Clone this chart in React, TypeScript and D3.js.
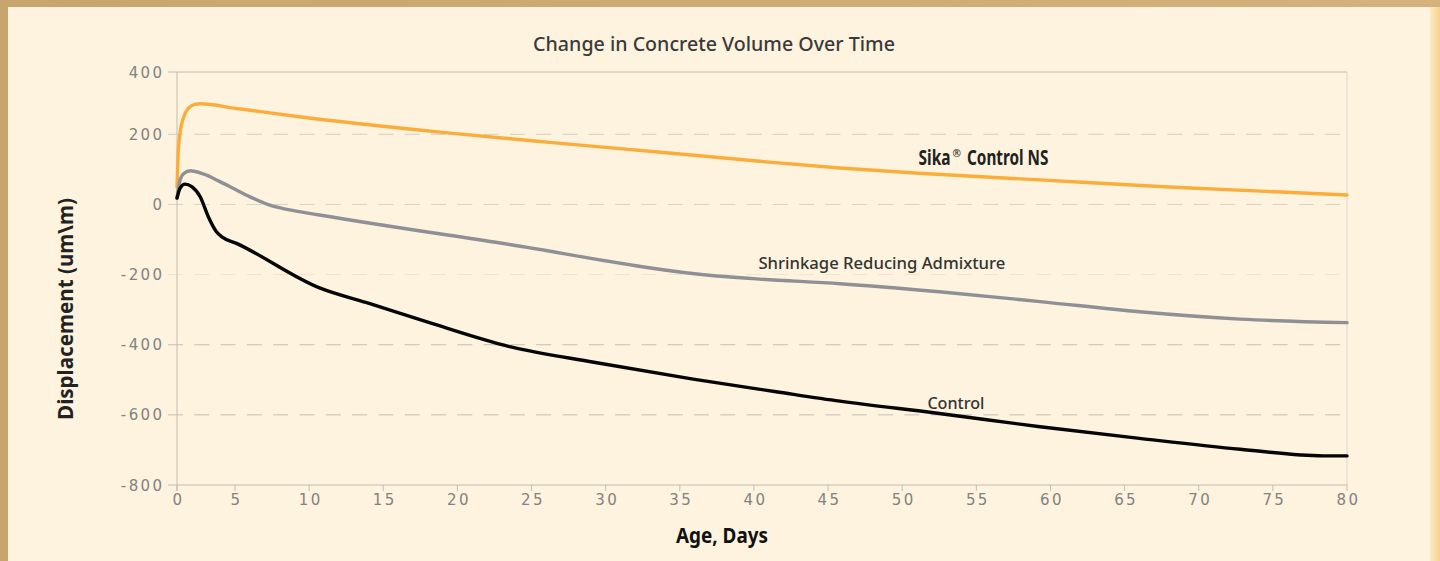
import React, { useEffect, useRef } from 'react';
import * as d3 from 'd3';

// values (days, um/m)
const xTicks = [0, 5, 10, 15, 20, 25, 30, 35, 40, 45, 50, 55, 60, 65, 70, 75, 80];
const yTicks = [400, 200, 0, -200, -400, -600, -800];

const sikaDays = [0, 0.09, 0.26, 0.54, 0.97, 1.55, 2.0, 5.1, 9.2, 19, 26.2, 33.7, 40.4, 45.8, 51.1, 59.3, 68.3, 80];
const sikaValues = [50, 136, 203, 251, 283, 296, 298, 283, 257, 206, 177, 149, 123, 104, 89, 70, 49, 27];

const sraDays = [0, 0.2, 0.54, 1.12, 2.27, 3.7, 5.1, 6.2, 7.4, 8.5, 10.7, 22.9, 37.5, 40.4, 45.8, 52.5, 59.3, 66, 72.8, 80];
const sraValues = [18, 60, 87, 96, 87, 65, 41, 18, -3, -14, -30, -110, -204, -213, -226, -249, -277, -306, -327, -337];

const controlDays = [0, 0.26, 0.69, 1.27, 2.0, 2.7, 3.4, 3.9, 5.1, 10.7, 14.1, 17.9, 23.6, 29.2, 35.9, 41.5, 45.8, 52.5, 59.3, 66, 72.8, 78.4, 80];
const controlValues = [18, 46, 58, 51, 22, -35, -78, -93, -111, -238, -283, -334, -406, -450, -498, -534, -561, -596, -634, -667, -698, -717, -717];

const W = 1440;
const H = 561;

type TextSel = d3.Selection<SVGTextElement, unknown, null, undefined>;

export default function App() {
  const svgRef = useRef<SVGSVGElement | null>(null);

  useEffect(() => {
    const svg = d3.select(svgRef.current);
    svg.selectAll('*').remove();

    // the original axes are not uniform at the start, so use piecewise scales
    const x = d3.scaleLinear().domain([0, 5, 80]).range([177, 235, 1347]);
    const y = d3.scaleLinear().domain([-800, 200, 400]).range([485, 134.3, 72]);

    // frame
    const defs = svg.append('defs');
    const topGrad = defs.append('linearGradient').attr('id', 'topGrad');
    topGrad.append('stop').attr('offset', '0%').attr('stop-color', '#c8a56c');
    topGrad.append('stop').attr('offset', '100%').attr('stop-color', '#d3b27b');
    const rightGrad = defs.append('linearGradient').attr('id', 'rightGrad');
    rightGrad.append('stop').attr('offset', '0%').attr('stop-color', '#fdf3de');
    rightGrad.append('stop').attr('offset', '100%').attr('stop-color', '#f8d48c');

    svg.append('rect').attr('width', W).attr('height', H).attr('fill', 'url(#topGrad)');
    svg.append('rect').attr('x', 1426).attr('y', 7).attr('width', 14).attr('height', H - 7).attr('fill', 'url(#rightGrad)');
    svg.append('rect').attr('x', 8).attr('y', 7).attr('width', 1422).attr('height', H - 7).attr('fill', '#fdf3de');

    const [x0, x1] = [x(0), x(80)];

    // grid
    const gridColor: Record<number, string> = { 200: '#d6cec2', 0: '#d9d1c5', [-200]: '#ede4d3', [-400]: '#c6bfb5', [-600]: '#c6bfb5' };
    svg.append('g')
      .selectAll('line')
      .data(yTicks.filter(t => t !== 400 && t !== -800))
      .enter().append('line')
      .attr('x1', 168).attr('x2', x1)
      .attr('y1', d => y(d)).attr('y2', d => y(d))
      .attr('stroke', d => gridColor[d])
      .attr('stroke-width', 1)
      .attr('stroke-dasharray', '15 11.3');

    const axisColor = '#c4bcb1';
    // top frame line, right border, axes
    svg.append('line').attr('x1', 168).attr('x2', x1).attr('y1', y(400)).attr('y2', y(400)).attr('stroke', axisColor);
    svg.append('line').attr('x1', x1).attr('x2', x1).attr('y1', y(400)).attr('y2', y(-800)).attr('stroke', '#dcd4c9');
    svg.append('line').attr('x1', x0).attr('x2', x0).attr('y1', y(400)).attr('y2', y(-800) + 6).attr('stroke', axisColor);
    svg.append('line').attr('x1', 168).attr('x2', x1).attr('y1', y(-800)).attr('y2', y(-800)).attr('stroke', axisColor);

    // x ticks
    svg.append('g')
      .selectAll('line')
      .data(xTicks)
      .enter().append('line')
      .attr('x1', d => x(d)).attr('x2', d => x(d))
      .attr('y1', y(-800)).attr('y2', y(-800) + 6)
      .attr('stroke', axisColor);

    const tickFont = '"DejaVu Sans", sans-serif';
    svg.append('g')
      .selectAll('text')
      .data(yTicks)
      .enter().append('text')
      .attr('x', 164.5)
      .attr('y', d => y(d) + 5.5)
      .attr('text-anchor', 'end')
      .attr('font-family', tickFont)
      .attr('font-size', 15)
      .attr('letter-spacing', 2.4)
      .attr('fill', '#838281')
      .text(d => d);

    svg.append('g')
      .selectAll('text')
      .data(xTicks)
      .enter().append('text')
      .attr('x', d => x(d) + 1.5)
      .attr('y', 505)
      .attr('text-anchor', 'middle')
      .attr('font-family', tickFont)
      .attr('font-size', 15)
      .attr('letter-spacing', 2.4)
      .attr('fill', '#838281')
      .text(d => d);

    // series
    const series = [
      { days: sikaDays, values: sikaValues, color: '#fbad3b' },
      { days: sraDays, values: sraValues, color: '#8e9096' },
      { days: controlDays, values: controlValues, color: '#050505' },
    ];
    const line = d3.line<[number, number]>()
      .x(d => x(d[0]))
      .y(d => y(d[1]))
      .curve(d3.curveMonotoneX);

    svg.append('g')
      .selectAll('path')
      .data(series)
      .enter().append('path')
      .attr('d', s => line(s.days.map((d, i) => [d, s.values[i]] as [number, number])))
      .attr('fill', 'none')
      .attr('stroke', s => s.color)
      .attr('stroke-width', 3.4)
      .attr('stroke-linejoin', 'round')
      .attr('stroke-linecap', 'round');

    const labelFont = '"Noto Sans", "Open Sans", sans-serif';

    // condensed text: squeeze horizontally to the width measured on the reference
    const label = (text: string, px: number, py: number, width: number, size: number, weight: number,
      fill: string, anchor = 'start', rotate = 0): TextSel => {
      const t = svg.append('text')
        .attr('text-anchor', anchor)
        .attr('font-family', labelFont)
        .attr('font-weight', weight)
        .attr('font-size', size)
        .attr('fill', fill)
        .text(text);
      const natural = (t.node() as SVGTextElement).getComputedTextLength() || width;
      t.attr('transform', `translate(${px},${py}) rotate(${rotate}) scale(${width / natural},1)`);
      return t;
    };

    // series labels, anchored in data coordinates
    const sikaX = x(51.1);
    const sikaY = y(112.5);
    label('Sika', sikaX, sikaY, 32, 21, 700, '#222');
    label('®', sikaX + 34, sikaY - 8, 8.5, 11, 400, '#222');
    label('Control NS', sikaX + 48.5, sikaY, 81.5, 21, 700, '#222');

    label('Shrinkage Reducing Admixture', x(40.3), y(-184), 247, 17, 500, '#333');
    label('Control', x(51.7), y(-582), 57, 17, 500, '#333');

    // titles
    label('Change in Concrete Volume Over Time', 714, 51, 362, 19, 500, '#3a3a3a', 'middle');
    label('Age, Days', 722, 543, 92, 21, 700, '#111', 'middle');
    label('Displacement (um\\m)', 73, 309, 222, 21, 700, '#222', 'middle', -90);
  }, []);

  return (
    <div style={{ position: 'fixed', left: 0, top: 0 }}>
      <svg ref={svgRef} width={W} height={H} style={{ display: 'block' }} />
    </div>
  );
}
